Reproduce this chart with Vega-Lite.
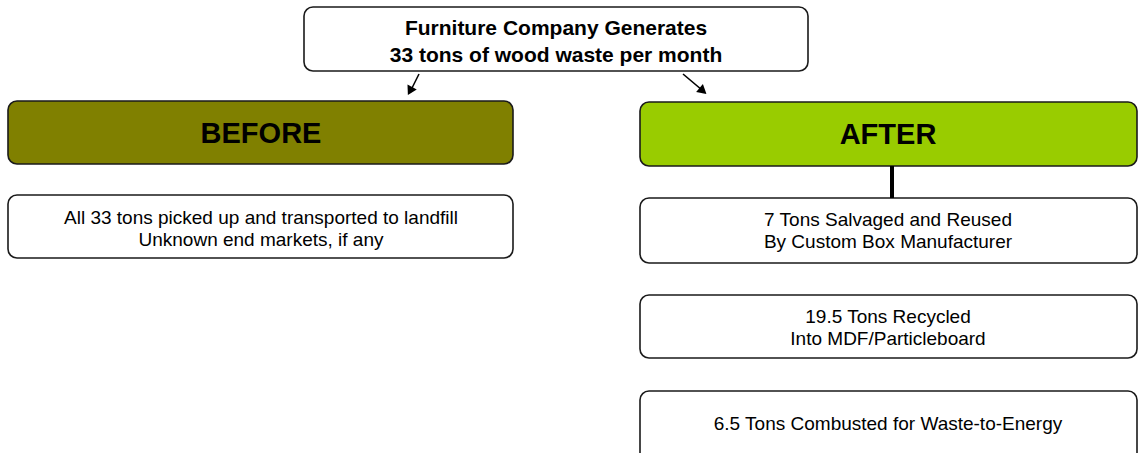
{
  "$schema": "https://vega.github.io/schema/vega-lite/v6.json",
  "width": 1138,
  "height": 453,
  "autosize": {"type": "fit", "contains": "padding"},
  "padding": 0,
  "background": "white",
  "config": {"view": {"stroke": null}, "font": "Liberation Sans"},
  "datasets": {
    "boxes": [
      {"node": "top", "kind": "plain", "x1": 304, "x2": 808, "y1": 7, "y2": 71},
      {"node": "before", "kind": "before", "x1": 8, "x2": 513, "y1": 101, "y2": 164},
      {"node": "after", "kind": "after", "x1": 640, "x2": 1137, "y1": 102, "y2": 166},
      {"node": "before1", "kind": "plain", "x1": 8, "x2": 513, "y1": 195, "y2": 258},
      {"node": "after1", "kind": "plain", "x1": 640, "x2": 1137, "y1": 198, "y2": 263},
      {"node": "after2", "kind": "plain", "x1": 640, "x2": 1137, "y1": 295, "y2": 358},
      {"node": "after3", "kind": "plain", "x1": 640, "x2": 1137, "y1": 391, "y2": 462}
    ],
    "links": [
      {"link": "left", "x": 419, "y": 74, "x2": 411, "y2": 90},
      {"link": "right", "x": 683, "y": 74, "x2": 702, "y2": 90}
    ],
    "heads": [
      {"link": "left", "x": 410, "y": 91},
      {"link": "right", "x": 703, "y": 91}
    ],
    "connector": [
      {"x": 892, "y": 166, "y2": 198}
    ],
    "labels": [
      {"style": "title", "cx": 556, "cy": 29, "text": ["Furniture Company Generates", "33 tons of wood waste per month"]},
      {"style": "header", "cx": 261, "cy": 134, "text": "BEFORE"},
      {"style": "header", "cx": 888, "cy": 135, "text": "AFTER"},
      {"style": "body", "cx": 261, "cy": 218, "text": ["All 33 tons picked up and transported to landfill", "Unknown end markets, if any"]},
      {"style": "body", "cx": 888, "cy": 220, "text": ["7 Tons Salvaged and Reused", "By Custom Box Manufacturer"]},
      {"style": "body", "cx": 888, "cy": 317, "text": ["19.5 Tons Recycled", "Into MDF/Particleboard"]},
      {"style": "body", "cx": 888, "cy": 424, "text": "6.5 Tons Combusted for Waste-to-Energy"}
    ]
  },
  "layer": [
    {
      "data": {"name": "boxes"},
      "mark": {"type": "rect", "cornerRadius": 9, "stroke": "#1a1a1a", "strokeWidth": 1.6, "clip": true},
      "encoding": {
        "x": {"field": "x1", "type": "quantitative", "scale": {"domain": [0, 1138], "nice": false, "zero": false}, "axis": null},
        "x2": {"field": "x2"},
        "y": {"field": "y1", "type": "quantitative", "scale": {"domain": [0, 453], "nice": false, "zero": false, "reverse": true}, "axis": null},
        "y2": {"field": "y2"},
        "fill": {"field": "kind", "type": "nominal", "scale": {"domain": ["plain", "before", "after"], "range": ["#ffffff", "#808000", "#99cc00"]}, "legend": null}
      }
    },
    {
      "data": {"name": "connector"},
      "mark": {"type": "rule", "stroke": "#000000", "strokeWidth": 4},
      "encoding": {
        "x": {"field": "x", "type": "quantitative"},
        "y": {"field": "y", "type": "quantitative"},
        "y2": {"field": "y2"}
      }
    },
    {
      "data": {"name": "links"},
      "mark": {"type": "rule", "stroke": "#000000", "strokeWidth": 1.6},
      "encoding": {
        "x": {"field": "x", "type": "quantitative"},
        "x2": {"field": "x2"},
        "y": {"field": "y", "type": "quantitative"},
        "y2": {"field": "y2"}
      }
    },
    {
      "data": {"name": "heads"},
      "transform": [{"filter": "datum.link === 'left'"}],
      "mark": {"type": "point", "shape": "triangle-up", "filled": true, "color": "#000000", "size": 110, "angle": 208, "opacity": 1},
      "encoding": {
        "x": {"field": "x", "type": "quantitative"},
        "y": {"field": "y", "type": "quantitative"}
      }
    },
    {
      "data": {"name": "heads"},
      "transform": [{"filter": "datum.link === 'right'"}],
      "mark": {"type": "point", "shape": "triangle-up", "filled": true, "color": "#000000", "size": 110, "angle": 130, "opacity": 1},
      "encoding": {
        "x": {"field": "x", "type": "quantitative"},
        "y": {"field": "y", "type": "quantitative"}
      }
    },
    {
      "data": {"name": "labels"},
      "transform": [{"filter": "datum.style === 'title'"}],
      "mark": {"type": "text", "font": "Liberation Sans", "fontSize": 21, "fontWeight": "bold", "align": "center", "baseline": "middle", "lineHeight": 27, "color": "#000000"},
      "encoding": {
        "x": {"field": "cx", "type": "quantitative"},
        "y": {"field": "cy", "type": "quantitative"},
        "text": {"field": "text"}
      }
    },
    {
      "data": {"name": "labels"},
      "transform": [{"filter": "datum.style === 'header'"}],
      "mark": {"type": "text", "font": "Liberation Sans", "fontSize": 29, "fontWeight": "bold", "align": "center", "baseline": "middle", "color": "#000000"},
      "encoding": {
        "x": {"field": "cx", "type": "quantitative"},
        "y": {"field": "cy", "type": "quantitative"},
        "text": {"field": "text"}
      }
    },
    {
      "data": {"name": "labels"},
      "transform": [{"filter": "datum.style === 'body'"}],
      "mark": {"type": "text", "font": "Liberation Sans", "fontSize": 19, "align": "center", "baseline": "middle", "lineHeight": 22, "color": "#000000"},
      "encoding": {
        "x": {"field": "cx", "type": "quantitative"},
        "y": {"field": "cy", "type": "quantitative"},
        "text": {"field": "text"}
      }
    }
  ]
}
